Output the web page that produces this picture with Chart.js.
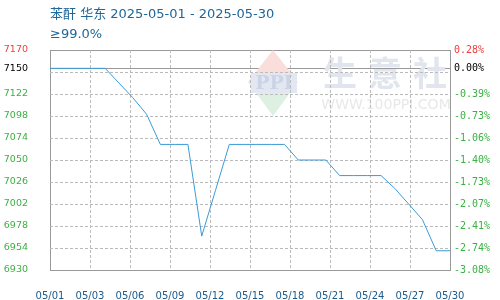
<!DOCTYPE html>
<html>
<head>
<meta charset="utf-8">
<script src="https://cdn.jsdelivr.net/npm/chart.js@4.4.1/dist/chart.umd.min.js"></script>
<style>
html, body { margin: 0; padding: 0; background: #fff; }
</style>
</head>
<body>
<canvas id="myChart" width="500" height="300"></canvas>
<script>
// data
const titleText = '苯酐 华东 2025-05-01 - 2025-05-30';
const subTitleText = '≥99.0%';
const days = ['05/01', '05/02', '05/03', '05/04', '05/05', '05/06', '05/07', '05/08', '05/09', '05/10',
    '05/11', '05/12', '05/13', '05/14', '05/15', '05/16', '05/17', '05/18', '05/19', '05/20',
    '05/21', '05/22', '05/23', '05/24', '05/25', '05/26', '05/27', '05/28', '05/29', '05/30'];
const prices = [7150, 7150, 7150, 7150, 7150, 7134, 7118, 7100, 7067, 7067,
    7067, 6967, 7017, 7067, 7067, 7067, 7067, 7067, 7050, 7050,
    7050, 7033, 7033, 7033, 7033, 7019, 7002, 6985, 6951, 6951];
const basePrice = 7150;
const yGridValues = [7170, 7146, 7122, 7098, 7074, 7050, 7026, 7002, 6978, 6954, 6930];
const xTickLabels = ['05/01', '05/03', '05/06', '05/09', '05/12', '05/15', '05/18', '05/21', '05/24', '05/27', '05/30'];

const yMin = yGridValues[yGridValues.length - 1];
const yMax = yGridValues[0];
const xMax = days.length - 1;

function isHidden(v) {
    return v !== basePrice && Math.abs(v - basePrice) < 10;
}
function isDashed(v) {
    return v !== basePrice && v !== yMax && v !== yMin;
}
function pct(v) {
    return ((v - basePrice) / basePrice * 100).toFixed(2) + '%';
}
function labelColor(v) {
    if (v > basePrice) return '#f03c3c';
    if (v < basePrice) return '#3cb043';
    return '#000000';
}

const watermark = {
    id: 'watermark',
    beforeDatasetsDraw(chart) {
        const ctx = chart.ctx;
        ctx.save();
        // logo
        ctx.beginPath();
        ctx.moveTo(273, 50);
        ctx.lineTo(298, 82);
        ctx.lineTo(273, 116);
        ctx.lineTo(248, 82);
        ctx.closePath();
        ctx.clip();
        ctx.fillStyle = '#f9dedb';
        ctx.fillRect(245, 48, 56, 34);
        ctx.fillStyle = '#ddf0e2';
        ctx.fillRect(245, 82, 56, 36);
        ctx.restore();
        ctx.save();
        ctx.fillStyle = '#e2e7f1';
        ctx.fillRect(251, 73, 46, 20);
        ctx.fillStyle = '#cbd4e6';
        ctx.font = 'bold 19px "DejaVu Serif"';
        ctx.textAlign = 'center';
        ctx.textBaseline = 'middle';
        ctx.fillText('PPI', 274, 84);
        // name
        ctx.fillStyle = '#e0e5ee';
        ctx.font = 'bold 34px "Noto Sans CJK SC"';
        const name = '生意社';
        for (let i = 0; i < name.length; i++) {
            ctx.fillText(name[i], 340 + i * 45, 73);
        }
        ctx.fillStyle = '#e8e8e8';
        ctx.font = '14px "DejaVu Sans"';
        ctx.fillText('WWW.100PPI.COM', 386, 105);
        ctx.restore();
    }
};

// dashed grid lines, placed by the chart's own scales (dashes drawn as short segments)
const dashedGrid = {
    id: 'dashedGrid',
    beforeDatasetsDraw(chart) {
        const ctx = chart.ctx;
        const a = chart.chartArea;
        const xs = chart.scales.x;
        const ys = chart.scales.y;
        ctx.save();
        ctx.fillStyle = '#bbbbbb';
        xs.ticks.forEach((t, i) => {
            if (i === 0 || i === xs.ticks.length - 1) return;
            const px = Math.round(xs.getPixelForValue(t.value));
            for (let s = a.top; s < a.bottom; s += 5) {
                ctx.fillRect(px, s, 1, Math.min(3, a.bottom - s));
            }
        });
        ys.ticks.forEach((t) => {
            if (!isDashed(t.value)) return;
            const py = Math.round(ys.getPixelForValue(t.value));
            for (let s = a.left; s < a.right; s += 5) {
                ctx.fillRect(s, py, Math.min(3, a.right - s), 1);
            }
        });
        ctx.restore();
    }
};

const headText = {
    id: 'headText',
    afterDraw(chart) {
        const ctx = chart.ctx;
        ctx.save();
        ctx.fillStyle = '#1f6699';
        ctx.font = '13px "DejaVu Sans", "Noto Sans CJK SC"';
        ctx.textBaseline = 'middle';
        ctx.fillText(titleText, 50, 15);
        ctx.fillText(subTitleText, 50, 35);
        ctx.restore();
    }
};

const ctx = document.getElementById('myChart').getContext('2d');
const myChart = new Chart(ctx, {
    type: 'line',
    data: {
        datasets: [
            {
                label: titleText,
                data: prices.map((p, i) => ({ x: i, y: p })),
                borderColor: '#3a9ad9',
                borderWidth: 1,
                pointRadius: 0,
                tension: 0,
                fill: false
            }
        ]
    },
    options: {
        responsive: false,
        devicePixelRatio: 1,
        animation: false,
        layout: {
            padding: { top: 50, left: 0, right: 0, bottom: 0 }
        },
        plugins: {
            legend: { display: false },
            tooltip: { enabled: false },
            title: { display: false }
        },
        scales: {
            x: {
                type: 'linear',
                min: 0,
                max: xMax,
                afterBuildTicks: function (scale) {
                    scale.ticks = xTickLabels.map((_, i) => ({ value: i * xMax / (xTickLabels.length - 1) }));
                },
                afterFit: function (scale) {
                    scale.height = 30;
                },
                grid: {
                    display: false
                },
                border: {
                    display: true,
                    color: '#999999',
                    width: 1
                },
                ticks: {
                    autoSkip: false,
                    maxRotation: 0,
                    padding: 12,
                    color: '#1a5a8c',
                    font: { family: 'DejaVu Sans', size: 10 },
                    callback: function (value, index) {
                        return xTickLabels[index];
                    }
                }
            },
            y: {
                position: 'left',
                min: yMin,
                max: yMax,
                afterBuildTicks: function (scale) {
                    scale.ticks = yGridValues.concat([basePrice]).sort((a, b) => a - b).map(v => ({ value: v }));
                },
                afterFit: function (scale) {
                    scale.width = 50;
                },
                grid: {
                    drawTicks: false,
                    color: (c) => {
                        if (!c.tick) return '#999999';
                        const v = c.tick.value;
                        return (v === yMin || isDashed(v)) ? 'rgba(0,0,0,0)' : '#999999';
                    },
                    lineWidth: 1
                },
                border: {
                    display: true,
                    color: '#999999',
                    width: 1
                },
                ticks: {
                    autoSkip: false,
                    padding: 22,
                    font: { family: 'DejaVu Sans', size: 9.5 },
                    color: (c) => labelColor(c.tick.value),
                    callback: function (value) {
                        return isHidden(value) ? '' : String(value);
                    }
                }
            },
            y1: {
                position: 'right',
                min: yMin,
                max: yMax,
                afterBuildTicks: function (scale) {
                    scale.ticks = yGridValues.concat([basePrice]).filter(v => !isHidden(v)).sort((a, b) => a - b).map(v => ({ value: v }));
                },
                afterFit: function (scale) {
                    scale.width = 50;
                },
                grid: { display: false, drawTicks: false },
                border: {
                    display: true,
                    color: '#999999',
                    width: 1
                },
                ticks: {
                    autoSkip: false,
                    padding: 4,
                    font: { family: 'DejaVu Sans Mono', size: 10 },
                    color: (c) => labelColor(c.tick.value),
                    callback: function (value) {
                        return pct(value);
                    }
                }
            }
        }
    },
    plugins: [watermark, dashedGrid, headText]
});
</script>
</body>
</html>
